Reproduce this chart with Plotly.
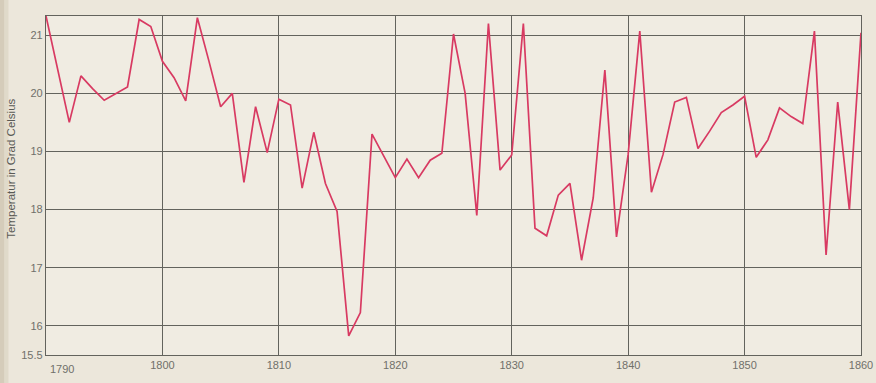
import plotly.graph_objects as go

years = list(range(1790, 1861))
temps = [
    21.33, 20.4, 19.5, 20.3, 20.08, 19.88, 20.0, 20.11, 21.27, 21.15,   # 1790-1799
    20.55, 20.27, 19.87, 21.3, 20.55, 19.77, 20.0, 18.47, 19.77, 18.98,  # 1800-1809
    19.9, 19.8, 18.37, 19.33, 18.45, 17.97, 15.83, 16.23, 19.3, 18.93,  # 1810-1819
    18.55, 18.87, 18.55, 18.85, 18.97, 21.02, 20.0, 17.9, 21.2, 18.68,  # 1820-1829
    18.94, 21.2, 17.68, 17.55, 18.25, 18.45, 17.13, 18.2, 20.4, 17.53,  # 1830-1839
    18.95, 21.07, 18.3, 18.95, 19.85, 19.93, 19.05, 19.35, 19.67, 19.8,  # 1840-1849
    19.95, 18.9, 19.2, 19.75, 19.6, 19.48, 21.07, 17.22, 19.85, 18.0,   # 1850-1859
    21.04,                                                              # 1860
]
x_ticks = [1790, 1800, 1810, 1820, 1830, 1840, 1850, 1860]
x_ticktext = ["", "1800", "1810", "1820", "1830", "1840", "1850", "1860"]
y_ticks = [15.5, 16, 17, 18, 19, 20, 21]
y_ticktext = ["15.5", "16", "17", "18", "19", "20", "21"]
y_title = "Temperatur in Grad Celsius"

fig = go.Figure()
fig.add_trace(go.Scatter(
    x=years, y=temps, mode="lines",
    line=dict(color="#d83a62", width=1.7),
    hoverinfo="skip", showlegend=False,
))

grid_col = "#63635d"
tick_font = dict(size=11, color="#70706a", family="Liberation Sans, Arial, sans-serif")
fig.update_layout(
    width=876, height=383,
    margin=dict(l=46, r=15, t=16, b=28, autoexpand=False),
    paper_bgcolor="#ece7db",
    plot_bgcolor="#f0ece2",
    font=dict(family="Liberation Sans, Arial, sans-serif", size=10, color="#5a5a55"),
    xaxis=dict(
        range=[1790, 1860], tickvals=x_ticks, ticktext=x_ticktext,
        showgrid=True, gridcolor=grid_col, gridwidth=1.3,
        showline=True, linecolor=grid_col, linewidth=1.3, mirror=True,
        zeroline=False, ticks="", tickfont=tick_font, automargin=False,
    ),
    yaxis=dict(
        range=[15.5, 21.33], tickvals=y_ticks, ticktext=y_ticktext,
        showgrid=True, gridcolor=grid_col, gridwidth=1.3,
        showline=True, linecolor=grid_col, linewidth=1.3, mirror=True,
        zeroline=False, ticks="", tickfont=tick_font, automargin=False,
    ),
    annotations=[
        dict(text=y_title, textangle=-90, xref="paper", yref="paper",
             x=-0.044, y=0.55, xanchor="center", yanchor="middle",
             showarrow=False, font=dict(size=11.5, color="#5a5a55")),
        dict(text="1790", xref="paper", yref="paper", x=0.002, y=-0.018,
             xanchor="left", yanchor="top", showarrow=False,
             font=tick_font),
    ],
    shapes=[
        dict(type="rect", xref="paper", yref="paper", x0=-0.0565, x1=-0.051,
             y0=-0.1, y1=1.06, fillcolor="#cfc5b1", opacity=0.8,
             line=dict(width=0), layer="above"),
        dict(type="rect", xref="paper", yref="paper", x0=-0.051, x1=-0.046,
             y0=-0.1, y1=1.06, fillcolor="#dcd4c3", opacity=0.7,
             line=dict(width=0), layer="above"),
    ],
)

fig.write_html(
    "out.html",
    config={"displayModeBar": False},
    post_script="document.body.style.margin='0';document.body.style.background='#ece7db';",
)
